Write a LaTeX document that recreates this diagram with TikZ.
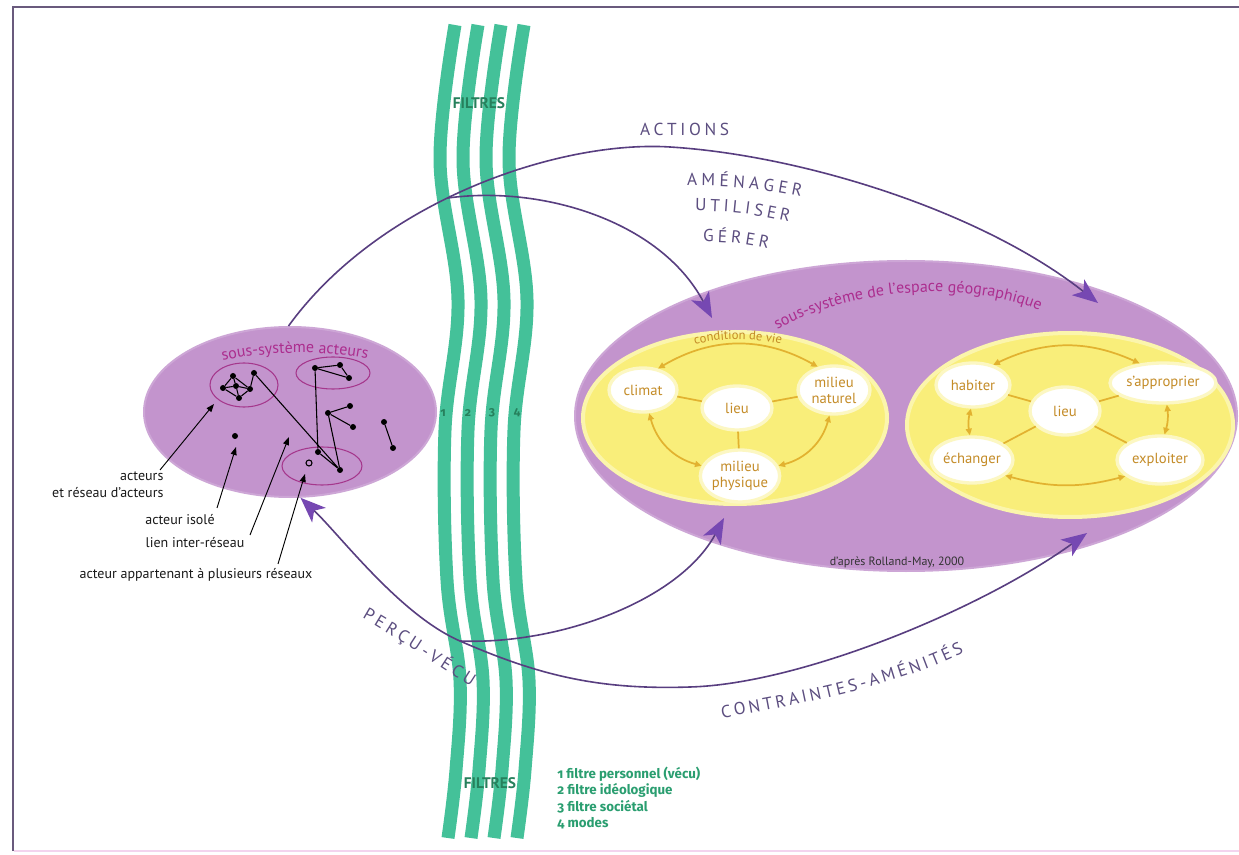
\documentclass[tikz,border=0pt]{standalone}
\usepackage{fontspec}
\setmainfont{PT Sans}
\newfontfamily\legfont[Numbers=OldStyle]{Fira Sans}
\usetikzlibrary{shapes.geometric,arrows.meta,decorations.text}
\definecolor{framecol}{RGB}{105,90,125}
\definecolor{framepink}{RGB}{243,212,238}
\definecolor{purpfill}{RGB}{195,148,205}
\definecolor{purpring}{RGB}{205,166,214}
\definecolor{magtxt}{RGB}{172,45,142}
\definecolor{netcol}{RGB}{165,55,140}
\definecolor{yelfill}{RGB}{249,238,122}
\definecolor{yelring}{RGB}{251,245,172}
\definecolor{goldtxt}{RGB}{196,140,40}
\definecolor{goldline}{RGB}{226,178,48}
\definecolor{bandcol}{RGB}{68,193,153}
\definecolor{dgreen}{RGB}{38,128,92}
\definecolor{leggreen}{RGB}{42,158,112}
\definecolor{arcline}{RGB}{88,62,128}
\definecolor{archead}{RGB}{118,72,178}
\definecolor{capcol}{RGB}{92,78,128}
\definecolor{lblcol}{RGB}{25,25,25}
\newcommand\capsz{\fontsize{13}{14}\selectfont}
\newcommand\titsz{\fontsize{12}{14}\selectfont}
\newcommand\condsz{\fontsize{9.5}{11}\selectfont}
\begin{document}
\begin{tikzpicture}[x=0.75pt,y=-0.75pt,
  pell/.style={ellipse,inner sep=0pt,fill=purpfill,draw=purpring,line width=1.5pt},
  yell/.style={ellipse,inner sep=0pt,fill=yelfill,draw=yelring,line width=3pt},
  wnode/.style={ellipse,inner sep=0pt,fill=white,draw=white!55!yelfill,line width=2.5pt,
    text=goldtxt,font=\fontsize{11}{12}\selectfont,align=center},
  glink/.style={draw=goldline,line width=1.3pt},
  garrow/.style={glink,{Triangle[length=5pt,width=4.5pt]}-{Triangle[length=5pt,width=4.5pt]}},
  parrow/.style={draw=arcline,line width=1.2pt,-{Stealth[length=19pt,width=15pt,inset=5pt,color=archead]}},
  parrowboth/.style={draw=arcline,line width=1.2pt,{Stealth[length=19pt,width=15pt,inset=5pt,color=archead]}-{Stealth[length=19pt,width=15pt,inset=5pt,color=archead]}},
  band/.style={draw=bandcol,line width=9.75pt},
  lbl/.style={font=\fontsize{10.5}{12.6}\selectfont,text=lblcol,inner sep=1pt},
  dot/.style={circle,fill=black,inner sep=0pt,minimum size=4.5pt},
  odot/.style={circle,draw=black,line width=0.8pt,inner sep=0pt,minimum size=4.5pt},
  netell/.style={ellipse,draw=netcol,line width=0.8pt,inner sep=0pt},
  netline/.style={draw=black,line width=0.8pt},
  blarrow/.style={draw=black,line width=0.7pt,-{Triangle[length=6pt,width=4.5pt]}},
  capslbl/.style={decorate,decoration={text along path,text color=capcol,text align=fit to path}},
  fnum/.style={font=\legfont\bfseries\fontsize{9}{10}\selectfont,text=dgreen,inner sep=0pt},
  filt/.style={font=\bfseries\fontsize{11.5}{12}\selectfont,text=dgreen,inner sep=0pt}
]
\useasboundingbox (0,0) rectangle (1239,855);
\fill[white] (0,0) rectangle (1239,855);
% frame
\draw[framecol,line width=1.5pt] (13,851) -- (13,7) -- (1239,7);
\draw[framepink,line width=1.5pt] (14,851) -- (1239,851);

% ---------- actors subsystem ----------
\node[pell,minimum width=219pt,minimum height=127.5pt] (acteurs) at (290,412) {};
\node[netell,minimum width=51pt,minimum height=33pt] (res1) at (244,385) {};
\node[netell,minimum width=55.5pt,minimum height=24pt] (res2) at (333,373) {};
\node[netell,minimum width=60pt,minimum height=28.5pt] (res3) at (322,466) {};
\foreach \n/\x/\y in {a1/233/376,a2/223/388,a3/239/398,a4/250/389,a5/254/373,a6/236/386,
  b1/315/368,b2/340/365,b3/349/378,c1/328/413,c2/350/406,c3/353/427,
  d1/318/452,d2/340/470,e1/235/436,f1/384/422,f2/393/448}
  \node[dot] (\n) at (\x,\y) {};
\node[odot] (o1) at (309,463) {};
\draw[netline] (a1)--(a2) (a2)--(a3) (a3)--(a4) (a4)--(a1) (a1)--(a6) (a6)--(a3)
  (a6)--(a4) (a2)--(a6) (a4)--(a5) (a5)--(d2) (b1)--(b2) (b2)--(b3) (b3)--(b1)
  (b1)--(d1) (d1)--(d2) (c1)--(c2) (c1)--(c3) (c1)--(d2) (f1)--(f2);
\path[decorate,decoration={text along path,text={|\titsz|sous-système acteurs},
  text color=magtxt,text align=center}]
  (210,364) .. controls (260,350) and (330,349) .. (380,362);

% labels and pointers
\node[lbl,align=right,anchor=east] (lblRes) at (165,485) {acteurs\\et réseau d'acteurs};
\node[lbl] (lblIso) at (180,520) {acteur isolé};
\node[lbl] (lblLien) at (195,543) {lien inter-réseau};
\node[lbl] (lblApp) at (196,575) {acteur appartenant à plusieurs réseaux};
\coordinate (sRes) at (160,470);  \coordinate (tRes) at (214,404);
\coordinate (sIso) at (217,508);  \coordinate (tIso) at (236,447);
\coordinate (sLien) at (250,535); \coordinate (tLien) at (289,437);
\coordinate (sApp) at (278,564);  \coordinate (tApp) at (305,474);
\draw[blarrow] (sRes) -- (tRes);
\draw[blarrow] (sIso) -- (tIso);
\draw[blarrow] (sLien) -- (tLien);
\draw[blarrow] (sApp) -- (tApp);

% ---------- geographic space subsystem ----------
\node[pell,minimum width=496.5pt,minimum height=232.5pt] (espace) at (906,416) {};
\node[yell,minimum width=228pt,minimum height=129pt] (yL) at (735,418) {};
\node[yell,minimum width=244.5pt,minimum height=138pt] (yR) at (1070,425) {};
\path[decorate,decoration={text along path,text={|\titsz|sous-système de l'espace géographique},
  text color=magtxt,text align=center}]
  (756,343) .. controls (830,288) and (980,272) .. (1062,322);
\path[decorate,decoration={text along path,text={|\condsz|condition de vie},
  text color=goldtxt,text align=center}]
  (678,350) .. controls (710,336) and (766,336) .. (798,350);

\node[wnode,minimum width=51pt,minimum height=33pt] (climat) at (643,390) {climat};
\node[wnode,minimum width=52.5pt,minimum height=33pt] (lieuA) at (737,408) {lieu};
\node[wnode,minimum width=54pt,minimum height=36pt] (mnat) at (834,390) {milieu\\naturel};
\node[wnode,minimum width=55.5pt,minimum height=39pt] (mphys) at (740,476) {milieu\\physique};
\node[wnode,minimum width=55.5pt,minimum height=33pt] (habiter) at (973,385) {habiter};
\node[wnode,minimum width=79.5pt,minimum height=30pt] (sappr) at (1163,383) {s'approprier};
\node[wnode,minimum width=52.5pt,minimum height=36pt] (lieuB) at (1065,411) {lieu};
\node[wnode,minimum width=61.5pt,minimum height=34.5pt] (echanger) at (972,460) {échanger};
\node[wnode,minimum width=64.5pt,minimum height=36pt] (exploiter) at (1160,460) {exploiter};

\draw[glink] (climat) -- (lieuA);
\draw[glink] (lieuA) -- (mnat);
\draw[glink] (lieuA) -- (mphys);
\draw[glink] (habiter) -- (lieuB);
\draw[glink] (sappr) -- (lieuB);
\draw[glink] (echanger) -- (lieuB);
\draw[glink] (exploiter) -- (lieuB);
\draw[garrow] (climat.55) to[bend left=30] (mnat.125);
\draw[garrow] (climat.-75) to[bend right=30] (mphys.165);
\draw[garrow] (mnat.-100) to[bend left=30] (mphys.15);
\draw[garrow] (habiter.45) to[bend left=25] (sappr.140);
\draw[garrow] (habiter.-95) to[bend right=12] (echanger.95);
\draw[garrow] (sappr.-80) to[bend left=12] (exploiter.80);
\draw[garrow] (echanger.-25) to[bend right=15] (exploiter.-155);

\node[font=\fontsize{9}{10}\selectfont,text=black!80] (source) at (897,562) {d'après Rolland-May, 2000};

% ---------- filters ----------
\foreach \s in {0,17.25,34.5,51.75}
  \draw[band,xshift=\s pt] plot[smooth,tension=0.6] coordinates
   {(455,25) (440,160) (458,300) (445,430) (447,580) (460,680) (456,770) (448,838)};
\node[filt] (filtTop) at (479,103) {FILTRES};
\node[filt] (filtBot) at (490,783) {FILTRES};
\foreach \i/\x in {1/443,2/468,3/492,4/517}
  \node[fnum] (num\i) at (\x,413) {\i};
\node[anchor=west,align=left,font=\legfont\bfseries\fontsize{10}{12.4}\selectfont,
  text=leggreen,inner sep=0pt] (legend) at (557,798)
  {1 filtre personnel (vécu)\\2 filtre idéologique\\3 filtre sociétal\\4 modes};

% ---------- purple arcs ----------
\draw[parrow] (acteurs.91) .. controls (380,200) and (560,140) .. (670,147)
  coordinate[pos=0.44] (br1)
  .. controls (800,155) and (980,210) .. (1098,303);
\draw[parrow] (br1) .. controls (540,185) and (660,220) .. (712,318);
\draw[parrowboth] (acteurs.-83) .. controls (340,535) and (400,615) .. (460,641)
  coordinate (X)
  .. controls (540,676) and (600,690) .. (690,687)
  .. controls (800,684) and (980,610) .. (1087,533);
\draw[parrow] (X) .. controls (560,645) and (680,600) .. (724,518);

% ---------- caps labels ----------
\path[capslbl,decoration={text={|\capsz|ACTIONS}}] (640,136) -- (729,136);
\path[capslbl,decoration={text={|\capsz|AMÉNAGER}}] (687,186) to[bend left=6] (801,197);
\path[capslbl,decoration={text={|\capsz|UTILISER}}] (695,211) to[bend left=6] (789,222);
\path[capslbl,decoration={text={|\capsz|GÉRER}}] (703,242) to[bend left=6] (768,249);
\path[capslbl,decoration={text={|\capsz|PERÇU-VÉCU}}]
  (362,618) .. controls (395,637) and (430,661) .. (471,687);
\path[capslbl,decoration={text={|\capsz|CONTRAINTES-AMÉNITÉS}}]
  (722,718) .. controls (800,705) and (900,685) .. (964,652);
\end{tikzpicture}
\end{document}
